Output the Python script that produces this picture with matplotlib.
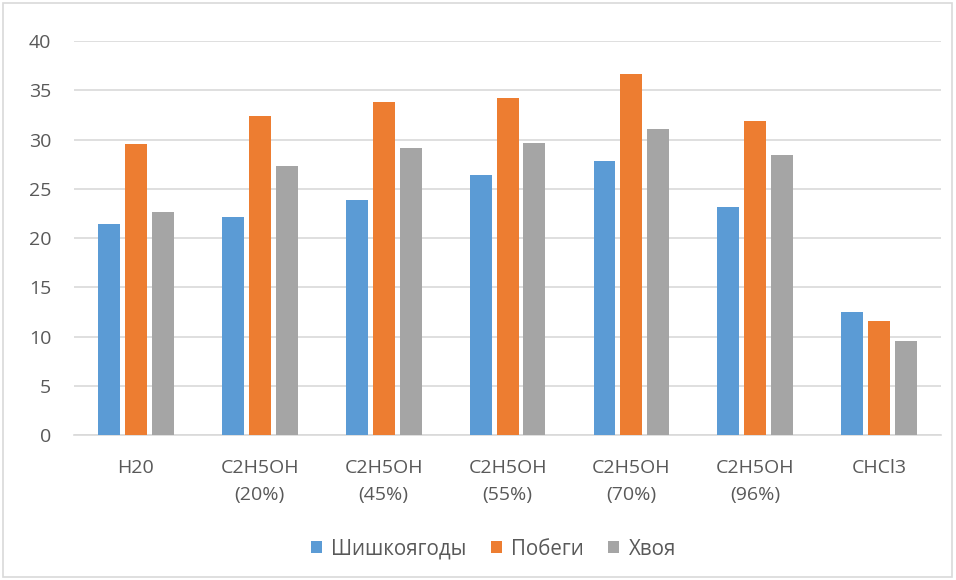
import numpy as np
import matplotlib
matplotlib.use('Agg')
import matplotlib.pyplot as plt
from matplotlib.patches import Rectangle

categories = ['H20', 'C2H5OH\n(20%)', 'C2H5OH\n(45%)', 'C2H5OH\n(55%)',
              'C2H5OH\n(70%)', 'C2H5OH\n(96%)', 'CHCl3']
shishkoyagody = [21.4, 22.1, 23.9, 26.4, 27.8, 23.1, 12.5]
pobegi = [29.5, 32.4, 33.8, 34.2, 36.7, 31.9, 11.6]
khvoya = [22.6, 27.3, 29.1, 29.6, 31.1, 28.4, 9.5]

series = [('Шишкоягоды', shishkoyagody, '#5b9bd5'),
          ('Побеги', pobegi, '#ed7d31'),
          ('Хвоя', khvoya, '#a5a5a5')]

plt.rcParams['font.family'] = ['Open Sans', 'DejaVu Sans']
text_color = '#595959'
grid_color = '#d9d9d9'

fig = plt.figure(figsize=(9.56, 5.8), dpi=100)
ax = fig.add_axes([0.0774, 0.25, 0.907, 0.6793])

x = np.arange(len(categories))
width = 0.177
step = 0.217
for i, (name, vals, color) in enumerate(series):
    ax.bar(x + (i - 1) * step, vals, width, color=color, label=name, zorder=3)

ax.set_xlim(-0.5, len(categories) - 0.5)
ax.set_ylim(0, 40)
ax.set_yticks(range(0, 41, 5))
ax.set_xticks(x)
ax.set_xticklabels(categories, linespacing=1.67)
ax.grid(axis='y', color=grid_color, linewidth=1.2, zorder=0)
for side in ['left', 'right', 'top']:
    ax.spines[side].set_visible(False)
ax.spines['bottom'].set_color(grid_color)
ax.spines['bottom'].set_linewidth(1.2)
ax.tick_params(axis='both', length=0, labelsize=14, colors=text_color)
ax.tick_params(axis='x', pad=17)
ax.tick_params(axis='y', pad=16.5)

leg = fig.legend(loc='center', bbox_to_anchor=(0.516, 0.0534), ncol=3, frameon=False,
                 fontsize=14.8, handlelength=0.53, handleheight=0.53,
                 handletextpad=0.45, columnspacing=1.2)
for t in leg.get_texts():
    t.set_color(text_color)

fig.patches.append(Rectangle((0.003, 0.005), 0.993, 0.99, transform=fig.transFigure,
                             fill=False, edgecolor=grid_color, linewidth=1.2))

fig.savefig('out.png', dpi=100)
